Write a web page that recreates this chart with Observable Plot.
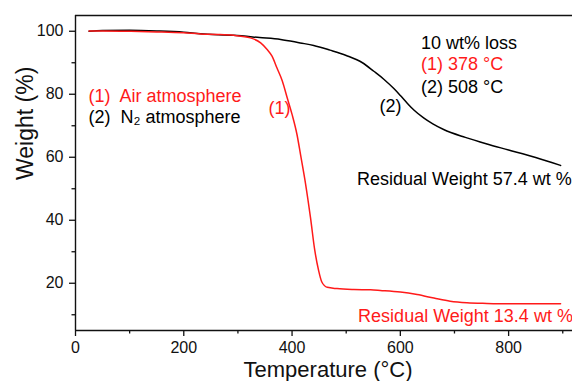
<!DOCTYPE html>
<html><head><meta charset="utf-8">
<script src="https://cdn.jsdelivr.net/npm/d3@7"></script>
<script src="https://cdn.jsdelivr.net/npm/@observablehq/plot@0.6"></script>
<style>
html,body{margin:0;padding:0;background:#fff;}
#chart{width:572px;height:381px;overflow:hidden;}
</style>
</head><body><div id="chart"></div>
<script>
// Air atmosphere (1)
const airTemp   = [25, 50, 100, 150, 200, 231, 260, 292, 323, 342, 354, 363, 372, 382, 391, 400, 409, 416, 425, 434, 442, 449, 455, 465, 483, 514, 545, 563, 600, 631, 662, 692, 723, 760, 800, 850, 896];
const airWeight = [100.1, 100.1, 100.0, 99.8, 99.5, 99.15, 99.0, 98.7, 97.9, 96.3, 94.2, 92.1, 88.4, 84.2, 78.9, 73.6, 67.3, 60.5, 51.5, 40.9, 30.4, 24.1, 20.4, 18.7, 18.3, 18.0, 17.9, 17.7, 17.2, 16.4, 15.3, 14.3, 13.8, 13.6, 13.5, 13.5, 13.5];
// N2 atmosphere (2)
const n2Temp    = [25, 50, 100, 150, 200, 231, 292, 340, 379, 415, 440, 470, 500, 530, 551, 570, 588, 600, 612, 625, 643, 660, 680, 720, 760, 800, 850, 896];
const n2Weight  = [100.0, 100.2, 100.3, 100.1, 99.7, 99.2, 98.7, 98.0, 97.4, 96.3, 95.5, 94.0, 92.3, 90.0, 87.3, 84.7, 81.8, 79.6, 77.3, 75.0, 72.5, 70.6, 68.8, 66.3, 64.2, 62.3, 59.9, 57.4];

const xMajorTicks = [0, 200, 400, 600, 800];
const xMinorTicks = [100, 300, 500, 700, 900];
const yMajorTicks = [20, 40, 60, 80, 100];
const yMinorTicks = [10, 30, 50, 70, 90];
const xDomain = [0, 918];
const yDomain = [5, 105];

const xTitle = "Temperature (°C)";
const yTitle = "Weight (%)";

const startLabels = [
  {label: "(1)\u00a0 Air atmosphere", T: 24, W: 79.3, color: "#ff1a1a"},
  {label: "(2)\u00a0 N\u2082 atmosphere", T: 24, W: 72.8, color: "#000"},
  {label: "10 wt% loss", T: 638, W: 96.3, color: "#000"},
  {label: "(1) 378 °C", T: 638, W: 89.4, color: "#ff1a1a"},
  {label: "(2) 508 °C", T: 638, W: 82.2, color: "#000"},
  {label: "Residual Weight 57.4 wt %", T: 520, W: 53.0, color: "#000"},
  {label: "Residual Weight 13.4 wt %", T: 522, W: 9.65, color: "#ff1a1a"}
];
const curveLabels = [
  {label: "(1)", T: 377, W: 75.5, color: "#ff1a1a"},
  {label: "(2)", T: 582, W: 76.1, color: "#000"}
];

const air = airTemp.map((t, i) => ({T: t, W: airWeight[i]}));
const n2 = n2Temp.map((t, i) => ({T: t, W: n2Weight[i]}));

const chart = Plot.plot({
  width: 572,
  height: 381,
  marginLeft: 75,
  marginRight: 0,
  marginTop: 15,
  marginBottom: 51,
  style: {fontFamily: "'Liberation Sans', Arial, sans-serif", fontSize: "16px", color: "#111", background: "#fff", overflow: "visible"},
  x: {domain: xDomain, axis: null},
  y: {domain: yDomain, axis: null},
  color: {type: "identity"},
  marks: [
    Plot.axisX(xMajorTicks, {tickSize: 6, tickPadding: 5, fontSize: 16, label: null, strokeWidth: 1.3}),
    Plot.axisX(xMinorTicks, {tickSize: 3.5, text: null, label: null, strokeWidth: 1.3}),
    Plot.axisY(yMajorTicks, {tickSize: 6, tickPadding: 6, fontSize: 16, label: null, strokeWidth: 1.3}),
    Plot.axisY(yMinorTicks, {tickSize: 3.5, text: null, label: null, strokeWidth: 1.3}),
    Plot.ruleX([xDomain[0]], {stroke: "#111", strokeWidth: 1.4}),
    Plot.ruleY([yDomain[0]], {stroke: "#111", strokeWidth: 1.4}),
    Plot.ruleY([yDomain[1]], {stroke: "#111", strokeWidth: 1.4}),
    Plot.line(n2, {x: "T", y: "W", stroke: "#000", strokeWidth: 1.5, curve: "monotone-x"}),
    Plot.line(air, {x: "T", y: "W", stroke: "#ff1a1a", strokeWidth: 1.5, curve: "monotone-x"}),
    Plot.text(startLabels, {x: "T", y: "W", text: "label", fill: "color", textAnchor: "start", fontSize: 18}),
    Plot.text(curveLabels, {x: "T", y: "W", text: "label", fill: "color", textAnchor: "middle", fontSize: 18}),
    Plot.text([xTitle], {text: d => d, frameAnchor: "bottom", dy: 46, dx: 4, fontSize: 22, fill: "#111"}),
    Plot.text([yTitle], {text: d => d, frameAnchor: "left", dx: -50, dy: 7, rotate: -90, fontSize: 23, fill: "#111"})
  ]
});
document.getElementById("chart").appendChild(chart);
</script>
</body></html>
